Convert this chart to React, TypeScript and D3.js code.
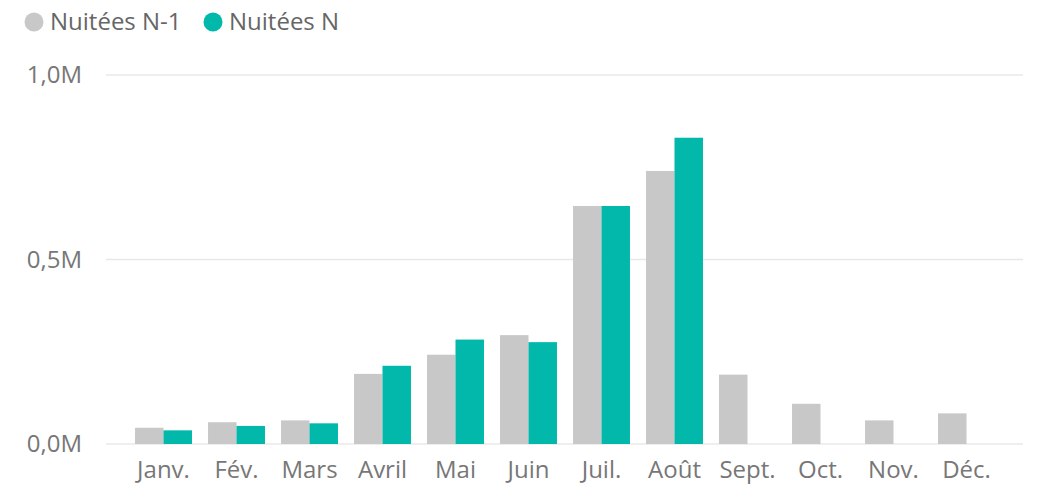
import React, { useEffect, useRef } from "react";
import * as d3 from "d3";

const months = ["Janv.", "Fév.", "Mars", "Avril", "Mai", "Juin", "Juil.", "Août", "Sept.", "Oct.", "Nov.", "Déc."];
const nuiteesN1 = [0.044, 0.059, 0.064, 0.19, 0.242, 0.295, 0.645, 0.74, 0.188, 0.109, 0.064, 0.083];
const nuiteesN = [0.037, 0.049, 0.056, 0.212, 0.283, 0.276, 0.645, 0.83, null, null, null, null];
const yTicks = [0, 0.5, 1.0];
const seriesNames = ["Nuitées N-1", "Nuitées N"];
const seriesColors = ["#C8C8C8", "#01B8AA"];

const width = 1038;
const height = 485;
const font = "'Open Sans', 'Noto Sans', sans-serif";

export default function App() {
  const svgRef = useRef<SVGSVGElement>(null);

  useEffect(() => {
    const svg = d3.select(svgRef.current);
    svg.selectAll("*").remove();

    const x = d3.scaleBand<string>()
      .domain(months)
      .range([127, 1003])
      .paddingInner(0.22)
      .paddingOuter(0.11);

    const xSub = d3.scaleBand<string>()
      .domain(seriesNames)
      .range([0, x.bandwidth()]);

    const y = d3.scaleLinear().domain([0, 1.0]).range([444, 75]);

    // gridlines
    svg.append("g")
      .selectAll("line")
      .data(yTicks)
      .enter()
      .append("line")
      .attr("x1", 106)
      .attr("x2", 1023)
      .attr("y1", (d) => y(d))
      .attr("y2", (d) => y(d))
      .attr("stroke", "#e8e8e8")
      .attr("stroke-width", 1.5);

    // y labels
    svg.append("g")
      .selectAll("text")
      .data(yTicks)
      .enter()
      .append("text")
      .attr("x", 82)
      .attr("y", (d) => y(d))
      .attr("dy", "0.35em")
      .attr("text-anchor", "end")
      .attr("font-family", font)
      .attr("font-size", 24)
      .attr("fill", "#777")
      .text((d) => d3.format(".1f")(d).replace(".", ",") + "M");

    // bars
    const series = [nuiteesN1, nuiteesN];
    series.forEach((vals, si) => {
      svg.append("g")
        .selectAll("rect")
        .data(months.map((m, i) => ({ m, v: vals[i] })).filter((d) => d.v != null))
        .enter()
        .append("rect")
        .attr("x", (d) => (x(d.m) as number) + (xSub(seriesNames[si]) as number))
        .attr("y", (d) => y(d.v as number))
        .attr("width", xSub.bandwidth())
        .attr("height", (d) => y(0) - y(d.v as number))
        .attr("fill", seriesColors[si]);
    });

    // x labels
    svg.append("g")
      .selectAll("text")
      .data(months)
      .enter()
      .append("text")
      .attr("x", (d) => (x(d) as number) + x.bandwidth() / 2)
      .attr("y", 478)
      .attr("text-anchor", "middle")
      .attr("font-family", font)
      .attr("font-size", 24)
      .attr("fill", "#777")
      .text((d) => d);

    // legend
    const legendX = [34, 213];
    const legend = svg.append("g");
    seriesNames.forEach((name, i) => {
      legend.append("circle")
        .attr("cx", legendX[i])
        .attr("cy", 22)
        .attr("r", 9.5)
        .attr("fill", seriesColors[i]);
      legend.append("text")
        .attr("x", legendX[i] + 16)
        .attr("y", 22)
        .attr("dy", "0.35em")
        .attr("font-family", font)
        .attr("font-size", 24)
        .attr("fill", "#666")
        .text(name);
    });
  }, []);

  return (
    <svg
      ref={svgRef}
      width={width}
      height={height}
      style={{ position: "absolute", left: 0, top: 0, background: "#fff" }}
    />
  );
}
